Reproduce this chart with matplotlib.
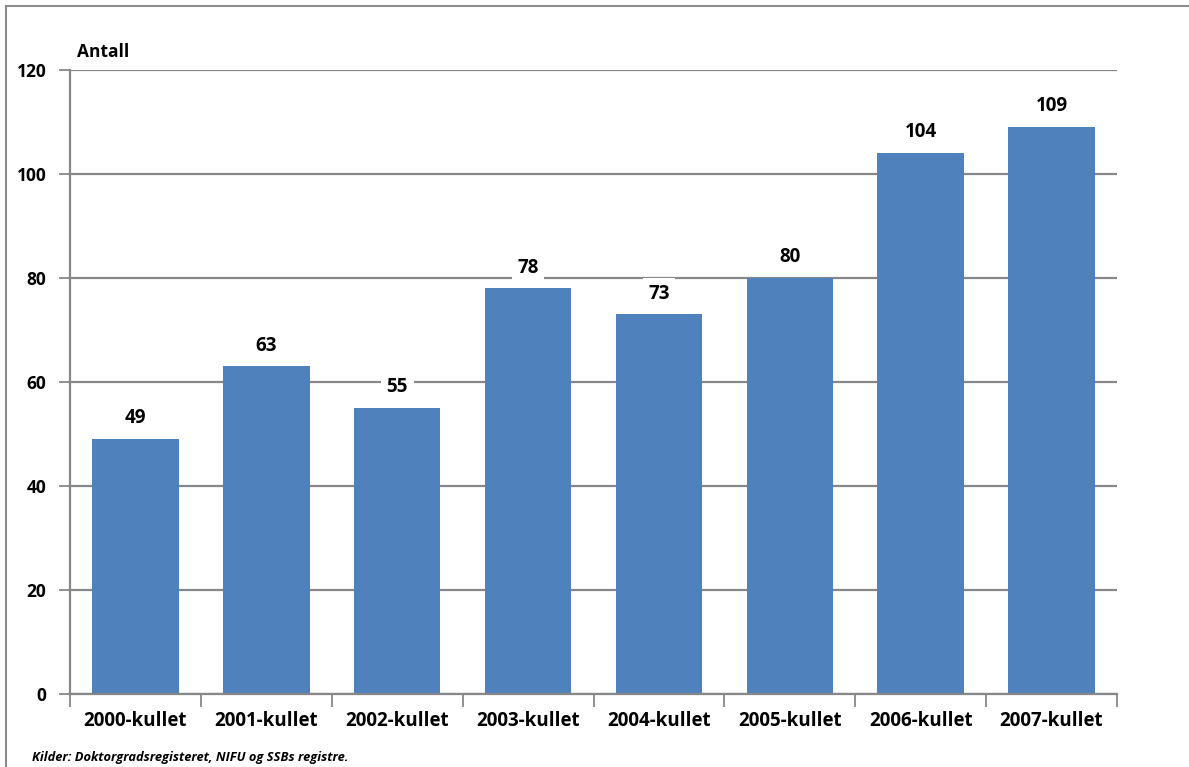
import matplotlib
matplotlib.use("Agg")
import matplotlib.pyplot as plt
from matplotlib.lines import Line2D

categories = ["2000-kullet", "2001-kullet", "2002-kullet", "2003-kullet",
              "2004-kullet", "2005-kullet", "2006-kullet", "2007-kullet"]
values = [49, 63, 55, 78, 73, 80, 104, 109]
yticks = [0, 20, 40, 60, 80, 100, 120]
source = "Kilder: Doktorgradsregisteret, NIFU og SSBs registre."

plt.rcParams['font.family'] = ['Open Sans', 'DejaVu Sans']

W, H = 1189, 767
fig = plt.figure(figsize=(W / 100, H / 100), dpi=100)
ax = fig.add_axes([70 / W, 1 - 694 / H, (1117 - 70) / W, (694 - 70) / H])

grid_c = "#878787"
bar_c = "#4F81BD"
FS = 12.5
FS_CAT = 13.5

x = list(range(len(categories)))
ax.bar(x, values, width=0.66, color=bar_c, zorder=2)
ax.set_xlim(-0.5, len(categories) - 0.5)
ax.set_ylim(0, 120)
ax.set_yticks(yticks)
ax.set_yticklabels([str(t) for t in yticks], fontsize=FS, fontweight='bold')
ax.yaxis.grid(True, color=grid_c, linewidth=1.6, zorder=0)
ax.set_axisbelow(True)

ax.set_xticks([i - 0.5 for i in range(len(categories) + 1)])
ax.set_xticklabels([])
ax.set_xticks(x, minor=True)
ax.set_xticklabels(categories, minor=True, fontsize=FS_CAT, fontweight='bold')
ax.tick_params(axis='x', which='minor', length=0, pad=12)
ax.tick_params(axis='x', which='major', length=9, width=1.3, color=grid_c)
ax.tick_params(axis='y', length=8, width=1.3, color=grid_c, pad=9)

for s in ['top', 'right']:
    ax.spines[s].set_visible(False)
for s in ['left', 'bottom']:
    ax.spines[s].set_color(grid_c)
    ax.spines[s].set_linewidth(1.6)

for xi, v in zip(x, values):
    ax.annotate(str(v), (xi, v), xytext=(0, 15), textcoords='offset points',
                ha='center', va='center', fontsize=FS_CAT, fontweight='bold',
                bbox=dict(boxstyle='square,pad=0.3', fc='white', ec='none'),
                zorder=3)

fig.text(77 / W, 1 - 52 / H, "Antall", fontsize=FS, fontweight='bold',
         ha='left', va='center')
fig.text(32 / W, 1 - 757 / H, source, fontsize=9.3, fontweight='bold',
         fontstyle='italic', ha='left', va='center')

# outer frame
fig.add_artist(Line2D([6 / W, 6 / W], [0, 1 - 6 / H], transform=fig.transFigure,
                      color="#8c8c8c", linewidth=1.5))
fig.add_artist(Line2D([6 / W, 1], [1 - 6 / H, 1 - 6 / H], transform=fig.transFigure,
                      color="#8c8c8c", linewidth=1.5))

fig.savefig("out.png", dpi=100, facecolor='white')
